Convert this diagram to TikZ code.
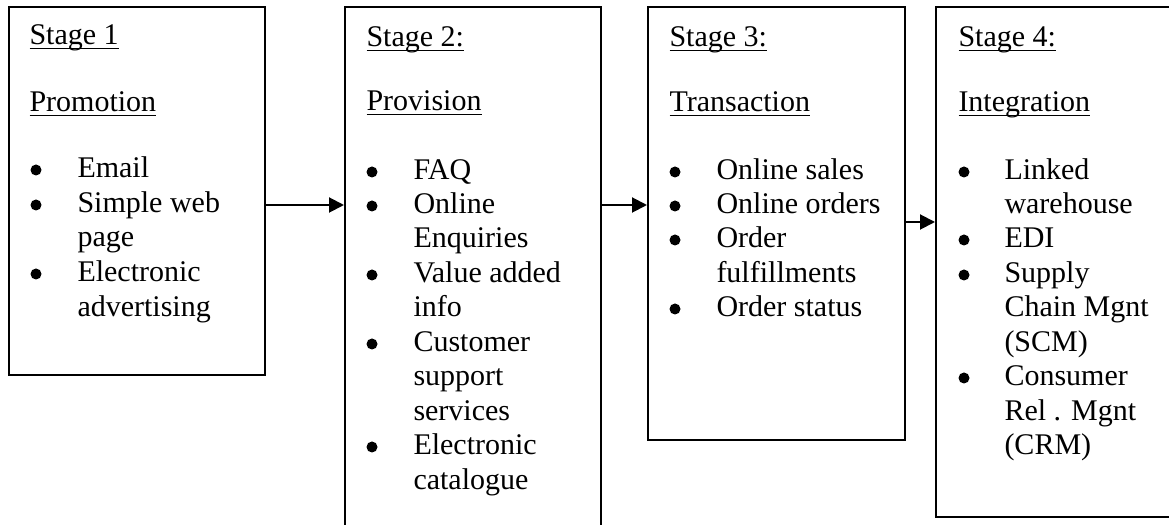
\documentclass[tikz,border=0pt]{standalone}
\usepackage{fontspec}
\setmainfont{Liberation Serif}
\usetikzlibrary{arrows.meta,fit}

% underlined heading word with a thin rule just under the baseline
\newcommand\ulword[1]{\setbox0\hbox{#1}\rlap{\rule[-1.6pt]{\wd0}{0.45pt}}\box0}

\tikzset{
  stagebox/.style={draw, line width=0.8pt, inner sep=0pt},
  txt/.style={anchor=base west, inner sep=0pt, font=\fontsize{12}{13.8}\selectfont},
  bulletdot/.style={circle, fill, inner sep=0pt, minimum size=4.4pt},
  arr/.style={line width=0.8pt, -{Triangle[length=6pt,width=6pt]}}
}

% heading, bullet and item lines (x, y in pixel units; y is the baseline)
\newcommand\head[4]{\node[txt] (#1) at (#2,#3) {\ulword{#4}};}
\newcommand\bul[3]{\node[bulletdot] (#1) at (#2,#3-8) {};}
\newcommand\itm[4]{\node[txt] (#1) at (#2,#3) {#4};}

\begin{document}
\begin{tikzpicture}[x=0.4pt,y=-0.4pt]
\useasboundingbox (0,0) rectangle (1169,525);
\clip (0,0) rectangle (1169,525);

% stage boxes
\node[stagebox, fit={(9,7) (265,375)}] (b1) {};
\node[stagebox, fit={(345,7) (601,560)}] (b2) {};
\node[stagebox, fit={(648,7) (905,440)}] (b3) {};
\node[stagebox, fit={(936,7) (1200,517)}] (b4) {};

% connectors
\coordinate (ya) at (0,205);
\coordinate (yb) at (0,222);
\draw[arr] (b1.east |- ya) -- (b2.west |- ya);
\draw[arr] (b2.east |- ya) -- (b3.west |- ya);
\draw[arr] (b3.east |- yb) -- (b4.west |- yb);

% stage 1
\head{s1a}{29}{45}{Stage 1}
\head{s1b}{29}{112}{Promotion}
\bul{s1p1}{36}{178}
\bul{s1p2}{36}{213}
\bul{s1p3}{36}{282}
\itm{s1i1}{77}{178}{Email}
\itm{s1i2}{77}{213}{Simple web}
\itm{s1i3}{77}{247}{page}
\itm{s1i4}{77}{282}{Electronic}
\itm{s1i5}{77}{317}{advertising}

% stage 2
\head{s2a}{366}{47}{Stage 2:}
\head{s2b}{366}{111}{Provision}
\bul{s2p1}{372}{180}
\bul{s2p2}{372}{214}
\bul{s2p3}{372}{283}
\bul{s2p4}{372}{352}
\bul{s2p5}{372}{455}
\itm{s2i1}{413}{180}{FAQ}
\itm{s2i2}{413}{214}{Online}
\itm{s2i3}{413}{248}{Enquiries}
\itm{s2i4}{413}{283}{Value added}
\itm{s2i5}{413}{317}{info}
\itm{s2i6}{413}{352}{Customer}
\itm{s2i7}{413}{386}{support}
\itm{s2i8}{413}{421}{services}
\itm{s2i9}{413}{455}{Electronic}
\itm{s2i10}{413}{490}{catalogue}

% stage 3
\head{s3a}{669}{47}{Stage 3:}
\head{s3b}{669}{112}{Transaction}
\bul{s3p1}{675}{180}
\bul{s3p2}{675}{214}
\bul{s3p3}{675}{248}
\bul{s3p4}{675}{317}
\itm{s3i1}{716}{180}{Online sales}
\itm{s3i2}{716}{214}{Online orders}
\itm{s3i3}{716}{248}{Order}
\itm{s3i4}{716}{283}{fulfillments}
\itm{s3i5}{716}{317}{Order status}

% stage 4
\head{s4a}{958}{47}{Stage 4:}
\head{s4b}{958}{112}{Integration}
\bul{s4p1}{964}{180}
\bul{s4p2}{964}{248}
\bul{s4p3}{964}{283}
\bul{s4p4}{964}{386}
\itm{s4i1}{1004}{180}{Linked}
\itm{s4i2}{1004}{214}{warehouse}
\itm{s4i3}{1004}{248}{EDI}
\itm{s4i4}{1004}{283}{Supply}
\itm{s4i5}{1004}{317}{Chain Mgnt}
\itm{s4i6}{1004}{352}{(SCM)}
\itm{s4i7}{1004}{386}{Consumer}
\itm{s4i8}{1004}{421}{Rel . Mgnt}
\itm{s4i9}{1004}{455}{(CRM)}
\end{tikzpicture}
\end{document}
